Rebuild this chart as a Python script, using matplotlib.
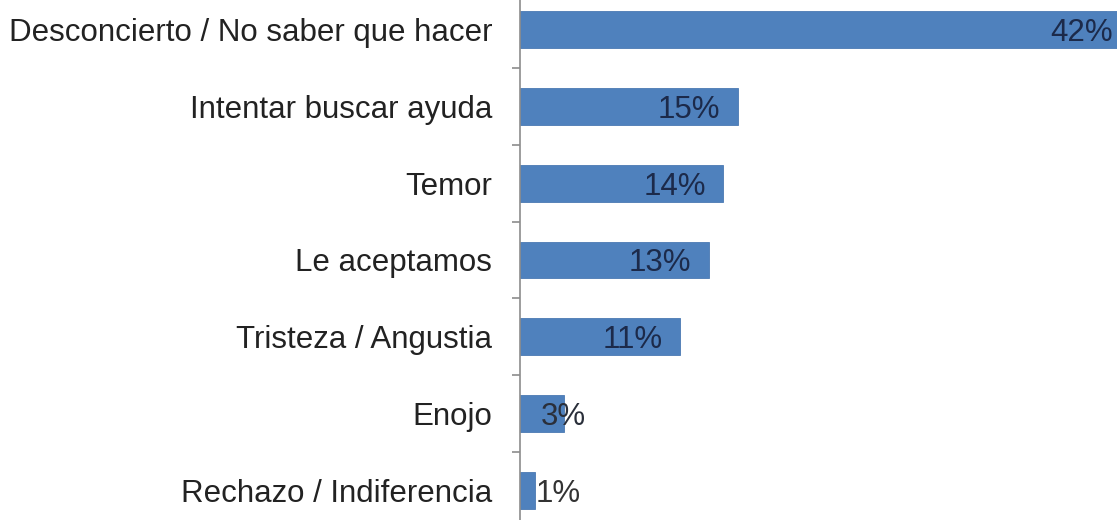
import matplotlib.pyplot as plt
import numpy as np

plt.rcParams['font.family'] = ['Liberation Sans', 'DejaVu Sans']

categories = [
    "Desconcierto / No saber que hacer",
    "Intentar buscar ayuda",
    "Temor",
    "Le aceptamos",
    "Tristeza / Angustia",
    "Enojo",
    "Rechazo / Indiferencia",
]
values = [42, 15, 14, 13, 11, 3, 1]
labels = ["42%", "15%", "14%", "13%", "11%", "3%", "1%"]

bar_color = "#4f81bd"

fig = plt.figure(figsize=(11.17, 5.2), dpi=100)
# axes reach past the canvas on the right and top/bottom, like the cropped original
ax = fig.add_axes([520 / 1117, -8.5 / 520, 654 / 1117, 537 / 520])

y = np.arange(len(categories))
ax.barh(y, values, height=0.48, color=bar_color, edgecolor="#4a79b3", linewidth=0.6)

ax.set_xlim(0, 45)
ax.set_ylim(len(categories) - 0.5, -0.5)

for yi, v, lab in zip(y, values, labels):
    if v >= 10:
        ax.text(v - 1.2, yi, lab, ha="right", va="center_baseline", fontsize=22.5,
                color="#1c2a4a")
    elif v >= 3:
        ax.text(v, yi, lab, ha="center", va="center_baseline", fontsize=22.5,
                color="#2a2f3a")
    else:
        ax.text(v + 0.1, yi, lab, ha="left", va="center_baseline", fontsize=22.5,
                color="#333333")

ax.set_yticks(y)
ax.set_yticklabels(categories, fontsize=22.5, color="#222222")
ax.set_yticks(np.arange(-0.5, len(categories), 1), minor=True)
ax.tick_params(axis="y", which="major", length=0, pad=20)
ax.tick_params(axis="y", which="minor", length=6, width=1.2, color="#8c8c8c",
               direction="out")
ax.set_xticks([])

for side in ["top", "right", "bottom"]:
    ax.spines[side].set_visible(False)
ax.spines["left"].set_color("#8c8c8c")
ax.spines["left"].set_linewidth(1.2)

fig.savefig("out.png", dpi=100)
